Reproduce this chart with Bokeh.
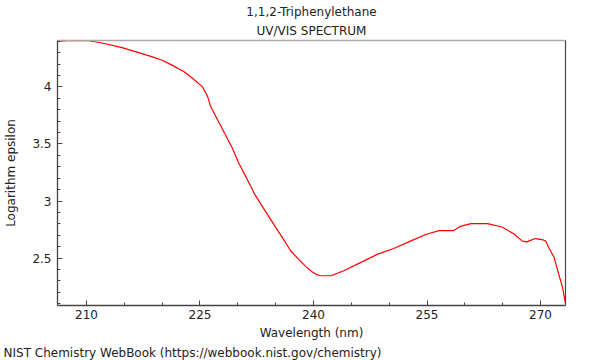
from bokeh.plotting import figure
from bokeh.models import (FixedTicker, LinearAxis, Range1d, NumeralTickFormatter, Title)
from bokeh.embed import file_html
from bokeh.resources import INLINE

# data
wavelength = [206.2, 207.5, 209.0, 210.3, 211.9, 214.7, 216.9, 218.7, 220.0, 221.3,
              222.9, 224.0, 225.3, 226.0, 226.4, 227.3, 228.2, 229.3, 230.1, 231.2,
              232.3, 233.4, 234.5, 235.9, 237.0, 238.0, 239.0, 239.8, 240.4, 241.0,
              242.3, 244.0, 246.2, 248.4, 250.6, 252.8, 255.0, 256.6, 258.5, 259.4,
              260.8, 263.0, 264.9, 266.5, 267.6, 268.2, 269.3, 270.2, 270.7, 271.1,
              271.8, 272.4, 272.9, 273.3]
log_eps = [4.400, 4.405, 4.407, 4.405, 4.387, 4.344, 4.301, 4.263, 4.234, 4.191,
           4.133, 4.076, 4.003, 3.917, 3.830, 3.715, 3.600, 3.460, 3.335, 3.196,
           3.051, 2.936, 2.821, 2.677, 2.562, 2.490, 2.425, 2.380, 2.355, 2.345,
           2.345, 2.389, 2.460, 2.532, 2.584, 2.648, 2.711, 2.740, 2.740, 2.778,
           2.801, 2.801, 2.772, 2.711, 2.648, 2.642, 2.671, 2.662, 2.648, 2.590,
           2.504, 2.359, 2.244, 2.100]

x_major = [210, 225, 240, 255, 270]
x_minor = [205, 215, 220, 230, 235, 245, 250, 260, 265]
y_major = [2.5, 3.0, 3.5, 4.0]
y_minor = [2.1, 2.2, 2.3, 2.4, 2.6, 2.7, 2.8, 2.9, 3.1, 3.2, 3.3, 3.4,
           3.6, 3.7, 3.8, 3.9, 4.1, 4.2, 4.3, 4.4]

title_1 = "1,1,2-Triphenylethane"
title_2 = "UV/VIS SPECTRUM"
x_label = "Wavelength (nm)"
y_label = "Logarithm epsilon"
footer = "NIST Chemistry WebBook (https://webbook.nist.gov/chemistry)"

FONT = "DejaVu Sans"
TXT = "#222222"

p = figure(width=600, height=360, output_backend="svg", toolbar_location=None,
           title=None, x_axis_type=None, y_axis_type=None,
           x_range=Range1d(206.17, 273.30), y_range=Range1d(2.084, 4.407),
           min_border_left=57, min_border_right=35, min_border_top=40,
           min_border_bottom=52)
p.grid.visible = False
p.outline_line_color = None
p.background_fill_color = "white"
p.border_fill_color = "white"

xa = LinearAxis(ticker=FixedTicker(ticks=x_major, minor_ticks=x_minor),
                axis_label=x_label)
ya = LinearAxis(ticker=FixedTicker(ticks=y_major, minor_ticks=y_minor),
                formatter=NumeralTickFormatter(format="0.[0]"), axis_label=y_label)
for ax in (xa, ya):
    ax.axis_line_color = "#444444"
    ax.axis_line_width = 1.3
    ax.major_tick_in = 5
    ax.major_tick_out = 0
    ax.minor_tick_in = 3
    ax.minor_tick_out = 0
    ax.major_tick_line_color = "#444444"
    ax.minor_tick_line_color = "#444444"
    ax.major_label_text_font = FONT
    ax.major_label_text_font_size = "12px"
    ax.major_label_text_color = TXT
    ax.axis_label_text_font = FONT
    ax.axis_label_text_font_size = "12px"
    ax.axis_label_text_font_style = "normal"
    ax.axis_label_text_color = TXT
xa.major_label_standoff = 4
xa.axis_label_standoff = 4
ya.major_label_standoff = 6
ya.axis_label_standoff = 11
p.add_layout(xa, "below")
p.add_layout(ya, "left")

top = LinearAxis(ticker=FixedTicker(ticks=[]), axis_line_color="#aaaaaa",
                 axis_line_width=1.5, major_label_text_font_size="0px",
                 major_tick_in=0, major_tick_out=0, minor_tick_in=0, minor_tick_out=0)
right = LinearAxis(ticker=FixedTicker(ticks=[]), axis_line_color="#444444",
                   axis_line_width=1.2, major_label_text_font_size="0px",
                   major_tick_in=0, major_tick_out=0, minor_tick_in=0, minor_tick_out=0)
p.add_layout(top, "above")
p.add_layout(right, "right")

def make_title(text, standoff, align="center", offset=0):
    return Title(text=text, align=align, offset=offset, standoff=standoff,
                 text_font=FONT, text_font_size="12px", text_font_style="normal",
                 text_color=TXT)

p.add_layout(make_title(title_2, 5), "above")
p.add_layout(make_title(title_1, 1), "above")
p.add_layout(make_title(footer, 2, align="left", offset=-54), "below")

p.line(wavelength, log_eps, line_color="red", line_width=1.2)

open("out.html", "w").write(file_html(p, INLINE))
